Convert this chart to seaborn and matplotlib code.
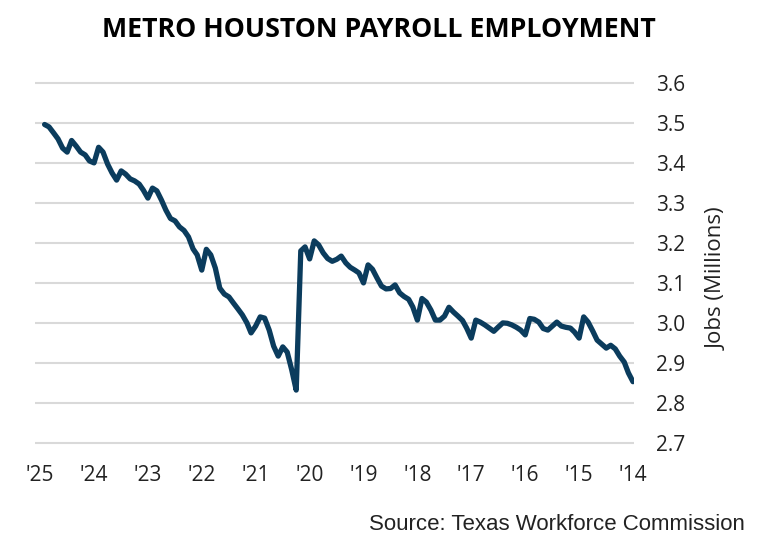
import pandas as pd
import seaborn as sns
import matplotlib.pyplot as plt

# Monthly payroll jobs, millions, Jan..Dec
jobs_2014 = [2.854, 2.876, 2.903, 2.918, 2.936, 2.945, 2.938, 2.948, 2.958, 2.981, 3.003, 3.016]
jobs_2015 = [2.963, 2.978, 2.988, 2.990, 2.993, 3.003, 2.993, 2.983, 2.987, 3.003, 3.010, 3.012]
jobs_2016 = [2.971, 2.983, 2.990, 2.996, 3.000, 3.001, 2.991, 2.980, 2.988, 2.996, 3.003, 3.008]
jobs_2017 = [2.963, 2.988, 3.007, 3.018, 3.028, 3.040, 3.018, 3.008, 3.008, 3.033, 3.053, 3.062]
jobs_2018 = [3.008, 3.041, 3.060, 3.067, 3.076, 3.096, 3.087, 3.086, 3.093, 3.113, 3.135, 3.146]
jobs_2019 = [3.101, 3.126, 3.133, 3.140, 3.151, 3.168, 3.160, 3.155, 3.162, 3.176, 3.196, 3.206]
jobs_2020 = [3.161, 3.191, 3.181, 2.833, 2.883, 2.928, 2.941, 2.918, 2.943, 2.983, 3.013, 3.016]
jobs_2021 = [2.993, 2.976, 3.001, 3.021, 3.036, 3.051, 3.066, 3.073, 3.088, 3.138, 3.171, 3.185]
jobs_2022 = [3.133, 3.171, 3.186, 3.216, 3.232, 3.241, 3.256, 3.262, 3.283, 3.308, 3.331, 3.338]
jobs_2023 = [3.313, 3.333, 3.348, 3.356, 3.361, 3.373, 3.381, 3.358, 3.376, 3.398, 3.428, 3.440]
jobs_2024 = [3.401, 3.406, 3.421, 3.428, 3.443, 3.457, 3.428, 3.438, 3.461, 3.476, 3.491, 3.497]

years = list(range(2014, 2026))
year_labels = ["'14", "'15", "'16", "'17", "'18", "'19", "'20", "'21", "'22", "'23", "'24", "'25"]
y_ticks = [2.7, 2.8, 2.9, 3.0, 3.1, 3.2, 3.3, 3.4, 3.5, 3.6]

jobs = (jobs_2014 + jobs_2015 + jobs_2016 + jobs_2017 + jobs_2018 + jobs_2019
        + jobs_2020 + jobs_2021 + jobs_2022 + jobs_2023 + jobs_2024)
df = pd.DataFrame({'Month': pd.date_range('2014-01-01', periods=len(jobs), freq='MS'),
                   'Jobs': jobs})

sns.set_style('white')
plt.rcParams['font.family'] = ['Open Sans', 'DejaVu Sans']

fig = plt.figure(figsize=(7.65, 5.5), dpi=100)
ax = fig.add_axes([35 / 765, (550 - 447.3) / 550, 599 / 765, 368 / 550])

sns.lineplot(data=df, x='Month', y='Jobs', ax=ax, color='#0b3c5d', linewidth=3.8)

# axis runs right to left, values on the right side
ax.set_xlim(pd.Timestamp('2025-02-04'), pd.Timestamp('2013-12-25'))
ax.set_ylim(2.69, 3.61)
ax.set_xticks([pd.Timestamp(f'{y}-01-01') for y in years])
ax.set_xticklabels(year_labels)
ax.set_yticks(y_ticks)
ax.set_yticklabels([f'{v:.1f}' for v in y_ticks])
ax.yaxis.tick_right()
ax.tick_params(axis='both', length=0, labelsize=15, colors='#222222')
ax.tick_params(axis='y', pad=16)
ax.tick_params(axis='x', pad=13)

ax.grid(axis='y', color='#d9d9d9', linewidth=1.5)
ax.grid(axis='x', visible=False)
for s in ax.spines.values():
    s.set_visible(False)

ax.set_xlabel('')
ax.set_ylabel('Jobs (Millions)', fontsize=16, color='#222222')
ax.yaxis.set_label_position('right')
ax.yaxis.label.set(rotation=90, ha='center', va='center')
ax.yaxis.set_label_coords(1.1386, 0.457)

fig.text(379 / 765, 1 - 30 / 550, 'METRO HOUSTON PAYROLL EMPLOYMENT',
         ha='center', va='center', fontsize=19.3, fontweight='bold', color='black')
fig.text(745 / 765, 1 - 525 / 550, 'Source: Texas Workforce Commission',
         ha='right', va='center', fontsize=16, color='#222222',
         family=['Liberation Sans Narrow', 'Liberation Sans'])

fig.savefig('out.png', dpi=100)
